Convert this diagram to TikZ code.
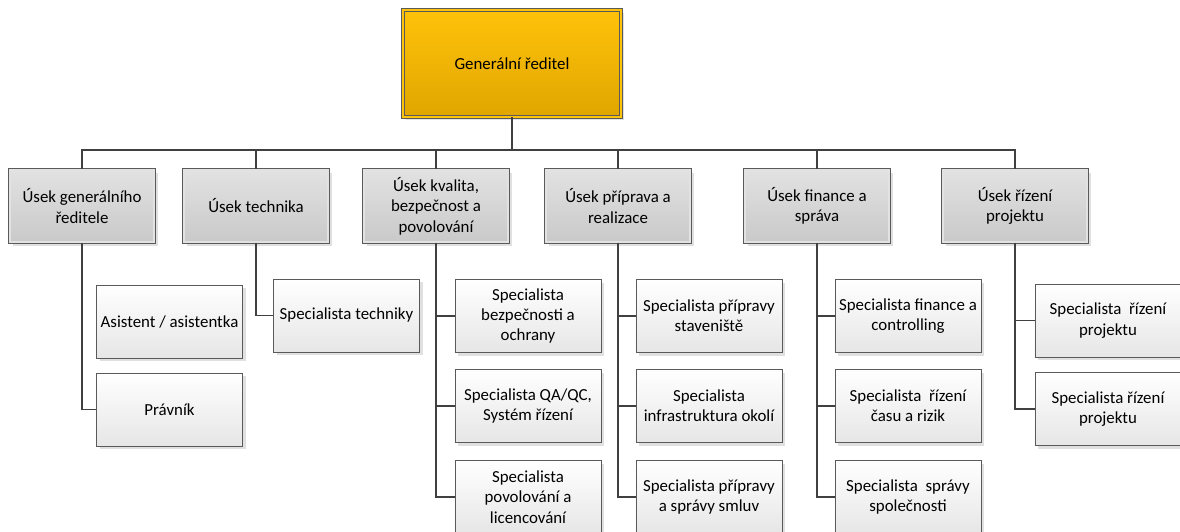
\documentclass[tikz,border=0pt]{standalone}
\usepackage{fontspec}
\setmainfont{Carlito}
\usepackage{tikz}
\usetikzlibrary{shadows}
\definecolor{ink}{HTML}{404040}
\definecolor{frame}{HTML}{5A5A5A}
\definecolor{goldtop}{HTML}{FFC20A}
\definecolor{goldbot}{HTML}{E0A600}
\definecolor{greytop}{HTML}{E2E2E2}
\definecolor{greybot}{HTML}{C9C9C9}
\definecolor{paletop}{HTML}{FFFFFF}
\definecolor{palebot}{HTML}{E6E6E6}

\begin{document}
\begin{tikzpicture}[x=0.025cm,y=-0.025cm,
 shad/.style={drop shadow={shadow xshift=2.2pt,shadow yshift=-2.2pt,fill=black!12,opacity=1}},
 head/.style={draw=frame,line width=0.5pt,double=goldtop,double distance=1.4pt,top color=goldtop,bottom color=goldbot,shad,minimum width=5.45cm,minimum height=2.675cm,align=center,font=\fontsize{12}{14.5}\selectfont},
 div/.style={draw=frame,line width=0.5pt,double=greytop,double distance=1.4pt,top color=greytop,bottom color=greybot,shad,minimum width=3.62cm,minimum height=1.82cm,align=center,font=\fontsize{12}{14.5}\selectfont},
 spec/.style={draw=frame,line width=0.5pt,top color=paletop,bottom color=palebot,shad,minimum width=3.65cm,minimum height=1.825cm,align=center,inner xsep=1pt,font=\fontsize{12}{14.5}\selectfont},
 conn/.style={draw=ink,line width=1.3pt}]
\useasboundingbox (0,0) rectangle (1180,532);
\clip (0,0) rectangle (1180,532);
\node[head] (gr) at (512,63.5) {Generální ředitel};
\node[div] (d1) at (82,206) {Úsek generálního\\ředitele};
\node[div] (d2) at (256,206) {Úsek technika};
\node[div] (d3) at (436,206) {Úsek kvalita,\\bezpečnost a\\povolování};
\node[div] (d4) at (618,206) {Úsek příprava a\\realizace};
\node[div] (d5) at (817,206) {Úsek finance a\\správa};
\node[div] (d6) at (1015,206) {Úsek řízení\\projektu};
\node[spec] (asist) at (169.5,321.5) {Asistent / asistentka};
\node[spec] (pravnik) at (169.5,409.5) {Právník};
\node[spec] (tech) at (346.5,315.5) {Specialista techniky};
\node[spec] (bezp) at (528,316) {Specialista\\bezpečnosti a\\ochrany};
\node[spec] (qaqc) at (528,406) {Specialista QA/QC,\\Systém řízení};
\node[spec] (povol) at (528,497) {Specialista\\povolování a\\licencování};
\node[spec] (stav) at (709,316) {Specialista přípravy\\staveniště};
\node[spec] (infra) at (709,406) {Specialista\\infrastruktura okolí};
\node[spec] (smluv) at (709,497) {Specialista přípravy\\a správy smluv};
\node[spec] (fin) at (908,316) {Specialista finance a\\controlling};
\node[spec] (cas) at (908,406) {Specialista\ \ řízení\\času a rizik};
\node[spec] (spol) at (908,497) {Specialista\ \ správy\\společnosti};
\node[spec] (proj1) at (1108,320.5) {Specialista\ \ řízení\\projektu};
\node[spec] (proj2) at (1108,409) {Specialista řízení\\projektu};
\coordinate (bus) at (512,150);
\foreach \d in {d1,d2,d3,d4,d5,d6}
 \draw[conn] (gr.south) -- (bus) -| (\d.north);
\draw[conn] (d1.south) |- (pravnik.west);
\draw[conn] (d2.south) |- (tech.west);
\foreach \s in {bezp,qaqc,povol} \draw[conn] (d3.south) |- (\s.west);
\foreach \s in {stav,infra,smluv} \draw[conn] (d4.south) |- (\s.west);
\foreach \s in {fin,cas,spol} \draw[conn] (d5.south) |- (\s.west);
\foreach \s in {proj1,proj2} \draw[conn] (d6.south) |- (\s.west);
\end{tikzpicture}
\end{document}
